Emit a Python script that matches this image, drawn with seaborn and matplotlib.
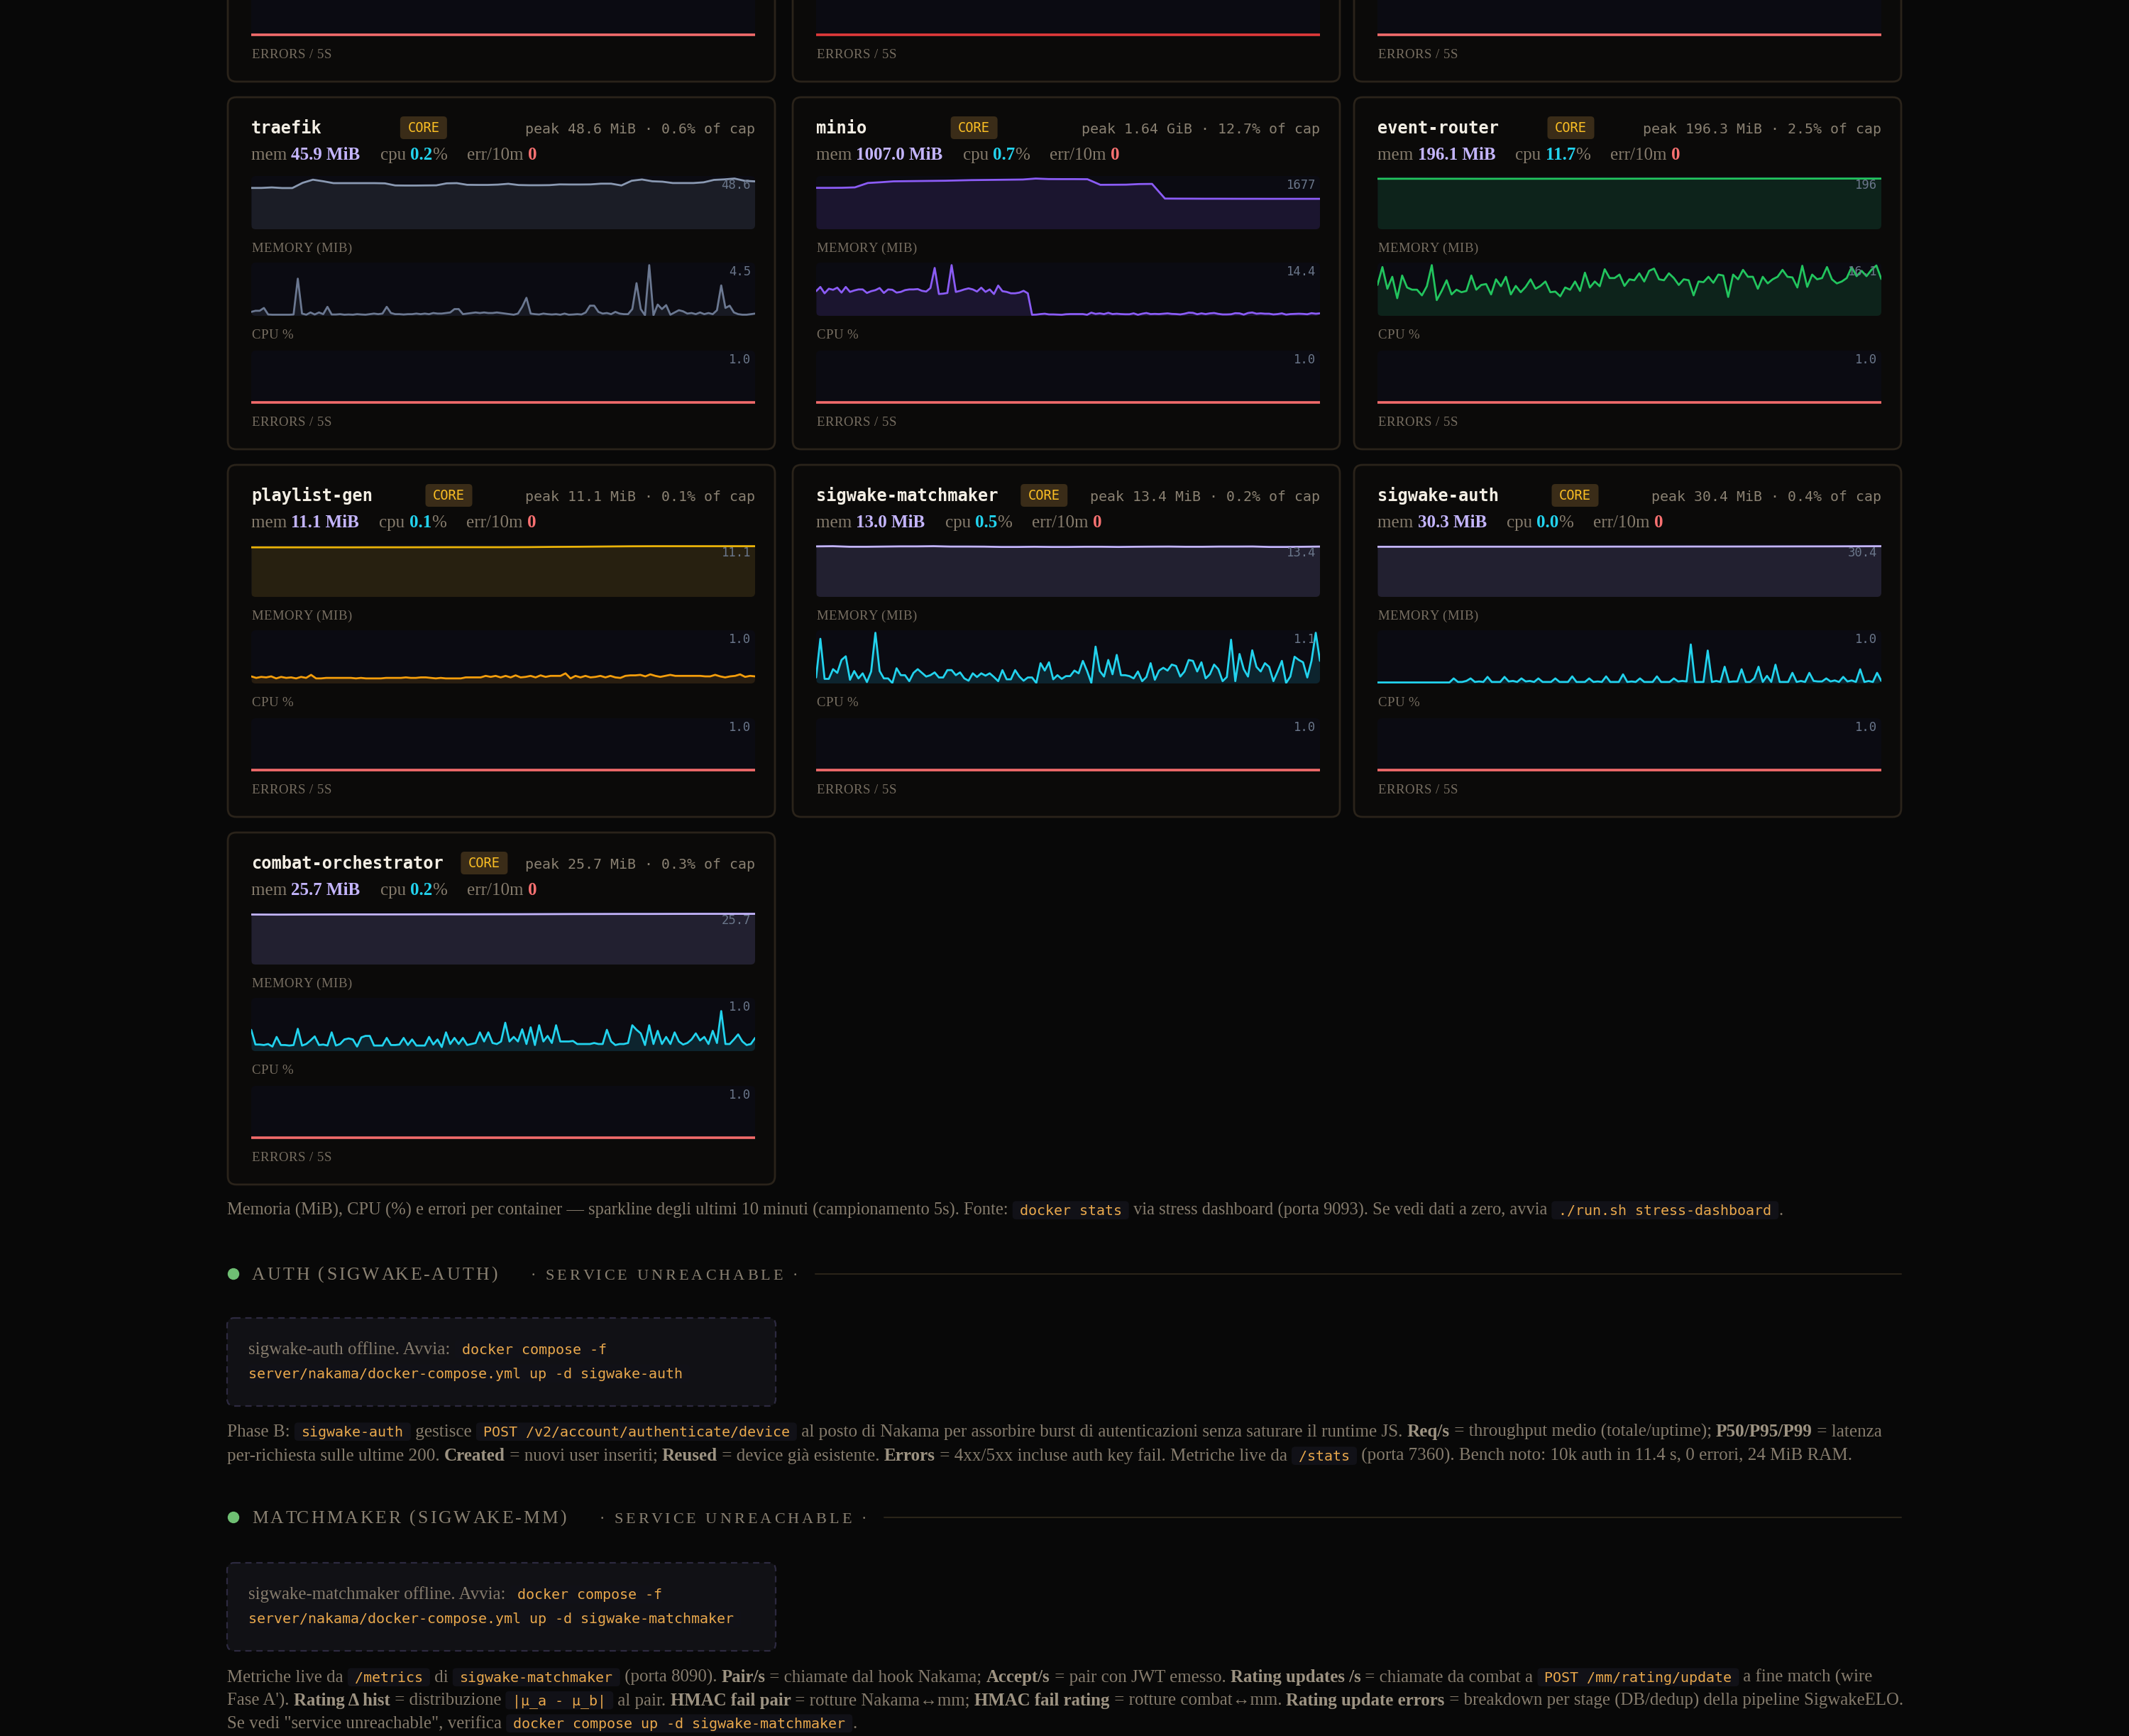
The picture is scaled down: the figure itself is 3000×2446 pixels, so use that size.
import matplotlib
matplotlib.use("Agg")
import matplotlib.pyplot as plt
from matplotlib.patches import FancyBboxPatch, Circle
import numpy as np
import seaborn as sns

W, H = 3000, 2446

# ---------------------------------------------------------------- data
NAMES = ["traefik", "minio", "event-router", "playlist-gen",
         "sigwake-matchmaker", "sigwake-auth", "combat-orchestrator"]
MEM_NOW = [45.9, 1007.0, 196.1, 11.1, 13.0, 30.3, 25.7]
CPU_NOW = [0.2, 0.7, 11.7, 0.1, 0.5, 0.0, 0.2]
ERR_10M = [0, 0, 0, 0, 0, 0, 0]
PEAK = ["48.6 MiB", "1.64 GiB", "196.3 MiB", "11.1 MiB", "13.4 MiB", "30.4 MiB", "25.7 MiB"]
CAP_PCT = [0.6, 12.7, 2.5, 0.1, 0.2, 0.4, 0.3]

MEM_TRAEFIK = [39.6, 39.6, 40.1, 39.5, 39.5, 44.5, 47.5, 46.0, 44.2, 44.2, 44.2, 44.2, 44.2,
               44.0, 42.0, 41.9, 41.9, 42.0, 42.1, 44.0, 44.2, 42.6, 42.5, 42.5, 42.8, 43.6,
               42.4, 42.2, 42.2, 42.3, 43.0, 42.9, 42.9, 43.0, 43.7, 43.7, 42.0, 46.5, 47.7,
               46.0, 45.6, 44.3, 44.3, 44.3, 45.0, 47.3, 47.8, 48.6, 46.4, 45.9]
CPU_TRAEFIK = [0.35, 0.45, 0.45, 0.7, 0.12, 0.1, 0.1, 0.1, 0.1, 0.1, 0.12, 3.3, 0.2, 0.1, 0.3,
               0.12, 0.3, 0.15, 0.8, 0.12, 0.12, 0.15, 0.1, 0.12, 0.1, 0.15, 0.12, 0.1, 0.15,
               0.2, 0.15, 0.2, 0.8, 0.25, 0.15, 0.15, 0.12, 0.15, 0.15, 0.2, 0.15, 0.2, 0.15,
               0.25, 0.2, 0.2, 0.25, 0.3, 0.6, 0.6, 0.15, 0.2, 0.25, 0.3, 0.25, 0.3, 0.25, 0.25,
               0.3, 0.25, 0.2, 0.15, 0.1, 0.2, 0.8, 1.6, 0.2, 0.15, 0.12, 0.2, 0.15, 0.12, 0.15,
               0.1, 0.2, 0.1, 0.12, 0.15, 0.12, 0.3, 0.9, 0.9, 0.35, 0.2, 0.25, 0.15, 0.35, 0.2,
               0.15, 0.15, 0.6, 2.9, 0.6, 0.05, 4.5, 0.05, 1.0, 0.6, 0.95, 0.1, 0.3, 0.5, 0.4,
               0.2, 0.25, 0.15, 0.3, 0.15, 0.25, 0.15, 0.5, 2.7, 0.7, 0.9, 0.3, 0.15, 0.1, 0.1,
               0.15, 0.2]

MEM_MINIO = [1369, 1369, 1372, 1385, 1530, 1555, 1585, 1590, 1595, 1600, 1605, 1615, 1625,
             1630, 1635, 1640, 1645, 1677, 1660, 1658, 1658, 1655, 1470, 1472, 1475, 1495,
             1500, 1015, 1013, 1012, 1010, 1010, 1009, 1008, 1008, 1007, 1007, 1007, 1007, 1007]
CPU_MINIO = [7.0, 8.2, 6.4, 7.7, 7.4, 8.0, 6.6, 8.2, 6.8, 7.2, 7.5, 7.5, 6.5, 7.0, 7.3, 7.9,
             6.5, 7.5, 7.4, 6.6, 6.8, 7.3, 7.5, 7.5, 7.6, 7.1, 6.9, 7.9, 13.6, 6.2, 6.3, 6.5,
             14.4, 6.8, 7.1, 7.5, 7.8, 7.5, 6.9, 8.0, 6.8, 7.5, 6.2, 8.6, 7.0, 6.8, 6.4, 6.4,
             6.6, 7.1, 6.4, 0.3, 0.35, 0.5, 0.6, 0.4, 0.4, 0.35, 0.3, 0.45, 0.5, 0.5, 0.5, 0.5,
             0.3, 0.9, 0.55, 0.7, 0.5, 0.85, 0.5, 0.6, 0.5, 0.45, 0.45, 0.7, 0.3, 0.6, 0.8, 0.5,
             0.55, 0.5, 0.6, 0.7, 0.55, 0.5, 0.4, 0.6, 0.9, 0.85, 0.45, 0.7, 0.5, 0.7, 0.8,
             0.55, 0.4, 0.4, 0.45, 0.75, 0.7, 0.35, 0.8, 0.95, 0.6, 0.7, 0.6, 0.6, 0.4, 0.5,
             0.7, 0.35, 0.5, 0.55, 0.6, 0.55, 0.45, 0.75, 0.6, 0.7]

MEM_EVENT = [195.5, 195.6, 195.5, 195.5, 195.4, 195.5, 195.5, 195.6, 195.6, 195.7, 195.8,
             195.9, 196.0, 196.0, 196.1, 196.2, 196.1, 196.2, 196.3, 196.1]
CPU_EVENT = [9.8, 15.5, 8.6, 12.4, 5.6, 12.8, 9.0, 8.3, 8.3, 6.5, 9.4, 16.1, 5.0, 7.9, 11.3,
             6.8, 8.3, 7.5, 7.9, 12.8, 8.3, 9.8, 10.1, 6.8, 11.6, 9.4, 12.4, 6.8, 9.5, 7.5, 9.2,
             11.6, 8.6, 9.5, 10.9, 7.5, 7.7, 6.2, 9.0, 8.3, 10.9, 7.9, 13.7, 9.0, 10.9, 9.4,
             14.8, 12.0, 12.0, 13.1, 9.5, 11.6, 11.3, 13.5, 10.9, 14.3, 15.0, 11.6, 11.3, 13.5,
             12.0, 9.8, 11.6, 11.3, 6.5, 10.9, 10.7, 12.4, 10.5, 13.1, 12.8, 6.0, 13.1, 11.6,
             14.6, 12.4, 12.4, 8.6, 12.4, 10.3, 11.6, 12.4, 14.6, 12.4, 12.2, 9.0, 15.9, 9.2,
             13.1, 11.6, 12.0, 15.5, 11.6, 10.3, 10.9, 12.0, 15.5, 12.6, 14.3, 12.6, 14.6,
             16.0, 11.7]

MEM_PLAYLIST = [10.85, 10.85, 10.85, 10.85, 10.85, 10.86, 10.86, 10.87, 10.88, 10.88, 10.88,
                10.9, 10.95, 10.98, 11.03, 11.08, 11.1, 11.1, 11.1, 11.1, 11.1]
CPU_PLAYLIST = [0.14, 0.11, 0.13, 0.12, 0.14, 0.10, 0.13, 0.11, 0.12, 0.10, 0.13, 0.11, 0.17,
                0.10, 0.10, 0.11, 0.11, 0.11, 0.11, 0.11, 0.11, 0.10, 0.11, 0.10, 0.10, 0.10,
                0.10, 0.11, 0.11, 0.11, 0.11, 0.12, 0.11, 0.11, 0.12, 0.12, 0.11, 0.10, 0.11,
                0.10, 0.10, 0.10, 0.10, 0.12, 0.12, 0.12, 0.12, 0.15, 0.13, 0.15, 0.12, 0.15,
                0.12, 0.16, 0.12, 0.13, 0.15, 0.12, 0.16, 0.13, 0.15, 0.15, 0.15, 0.20, 0.10,
                0.15, 0.12, 0.15, 0.12, 0.13, 0.15, 0.12, 0.15, 0.12, 0.11, 0.15, 0.16, 0.16,
                0.17, 0.14, 0.18, 0.15, 0.13, 0.15, 0.17, 0.15, 0.15, 0.15, 0.15, 0.15, 0.15,
                0.14, 0.14, 0.17, 0.14, 0.12, 0.14, 0.15, 0.18, 0.13, 0.15, 0.14]

MEM_MM = [13.35, 13.4, 13.25, 13.25, 13.3, 13.35, 13.35, 13.4, 13.3, 13.3, 13.28, 13.2, 13.2,
          13.25, 13.2, 13.2, 13.25, 13.25, 13.2, 13.25, 13.28, 13.3, 13.25, 13.25, 13.3, 13.3,
          13.32, 13.2, 13.2, 13.25, 13.3]
CPU_MM = [0.13, 0.97, 0.10, 0.10, 0.31, 0.23, 0.51, 0.59, 0.08, 0.27, 0.11, 0.22, 0.03, 0.26,
          1.1, 0.27, 0.11, 0.11, 0.01, 0.33, 0.18, 0.18, 0.05, 0.23, 0.31, 0.23, 0.15, 0.18,
          0.24, 0.13, 0.13, 0.29, 0.29, 0.18, 0.24, 0.11, 0.06, 0.22, 0.14, 0.22, 0.17, 0.22,
          0.14, 0.05, 0.29, 0.09, 0.09, 0.29, 0.15, 0.06, 0.13, 0.13, 0.01, 0.44, 0.28, 0.46,
          0.09, 0.18, 0.10, 0.16, 0.16, 0.28, 0.22, 0.49, 0.27, 0.01, 0.80, 0.27, 0.15, 0.51,
          0.20, 0.62, 0.18, 0.18, 0.16, 0.11, 0.26, 0.05, 0.14, 0.44, 0.08, 0.28, 0.34, 0.28,
          0.41, 0.38, 0.15, 0.26, 0.51, 0.49, 0.26, 0.46, 0.11, 0.20, 0.41, 0.31, 0.05, 0.14,
          0.95, 0.05, 0.64, 0.31, 0.15, 0.72, 0.36, 0.26, 0.44, 0.36, 0.05, 0.26, 0.49, 0.01,
          0.15, 0.58, 0.51, 0.46, 0.13, 0.49, 1.1, 0.49]

MEM_AUTH = [30.05, 30.05, 30.05, 30.1, 30.1, 30.1, 30.1, 30.12, 30.12, 30.15, 30.15, 30.18,
            30.2, 30.2, 30.22, 30.25, 30.28, 30.3, 30.35, 30.4]
CPU_AUTH = [0.02, 0.02, 0.02, 0.02, 0.02, 0.02, 0.02, 0.02, 0.02, 0.02, 0.02, 0.02, 0.02,
            0.02, 0.02, 0.02, 0.02, 0.02, 0.1, 0.03, 0.03, 0.05, 0.1, 0.03, 0.04, 0.03, 0.13,
            0.03, 0.03, 0.03, 0.13, 0.04, 0.05, 0.03, 0.1, 0.04, 0.05, 0.03, 0.1, 0.03, 0.03,
            0.03, 0.1, 0.03, 0.03, 0.03, 0.14, 0.03, 0.03, 0.03, 0.1, 0.03, 0.04, 0.03, 0.14,
            0.03, 0.03, 0.03, 0.18, 0.03, 0.04, 0.03, 0.1, 0.03, 0.03, 0.03, 0.14, 0.03, 0.03,
            0.03, 0.1, 0.04, 0.05, 0.04, 0.77, 0.03, 0.03, 0.03, 0.65, 0.03, 0.05, 0.03, 0.33,
            0.03, 0.04, 0.04, 0.28, 0.03, 0.03, 0.1, 0.33, 0.03, 0.15, 0.03, 0.37, 0.03, 0.03,
            0.03, 0.21, 0.03, 0.05, 0.03, 0.21, 0.05, 0.04, 0.04, 0.1, 0.04, 0.06, 0.03, 0.13,
            0.04, 0.06, 0.03, 0.28, 0.03, 0.05, 0.03, 0.21, 0.05]

MEM_COMBAT = [25.35, 25.3, 25.35, 25.38, 25.4, 25.4, 25.42, 25.45, 25.45, 25.48, 25.5, 25.55,
              25.6, 25.62, 25.65, 25.65, 25.68, 25.7, 25.7, 25.7]
CPU_COMBAT = [0.42, 0.13, 0.13, 0.12, 0.14, 0.09, 0.28, 0.12, 0.12, 0.11, 0.12, 0.44, 0.11,
              0.14, 0.21, 0.29, 0.12, 0.13, 0.11, 0.37, 0.11, 0.14, 0.23, 0.25, 0.23, 0.09,
              0.27, 0.30, 0.30, 0.11, 0.11, 0.11, 0.26, 0.12, 0.12, 0.13, 0.26, 0.12, 0.23,
              0.11, 0.11, 0.11, 0.28, 0.13, 0.23, 0.08, 0.37, 0.14, 0.26, 0.14, 0.26, 0.12,
              0.14, 0.16, 0.37, 0.19, 0.37, 0.16, 0.14, 0.19, 0.56, 0.19, 0.28, 0.19, 0.43,
              0.14, 0.47, 0.12, 0.51, 0.19, 0.30, 0.16, 0.51, 0.19, 0.19, 0.19, 0.20, 0.14,
              0.14, 0.14, 0.14, 0.16, 0.14, 0.14, 0.42, 0.19, 0.12, 0.14, 0.14, 0.16, 0.51,
              0.42, 0.35, 0.12, 0.51, 0.14, 0.40, 0.14, 0.28, 0.14, 0.37, 0.19, 0.13, 0.16,
              0.23, 0.35, 0.21, 0.28, 0.14, 0.40, 0.16, 0.79, 0.14, 0.14, 0.23, 0.33, 0.19,
              0.12, 0.14, 0.26]

ERR_5S = [0, 0, 0, 0, 0, 0, 0, 0, 0, 0, 0, 0]

MEM_SERIES = [MEM_TRAEFIK, MEM_MINIO, MEM_EVENT, MEM_PLAYLIST, MEM_MM, MEM_AUTH, MEM_COMBAT]
CPU_SERIES = [CPU_TRAEFIK, CPU_MINIO, CPU_EVENT, CPU_PLAYLIST, CPU_MM, CPU_AUTH, CPU_COMBAT]

FOOTER_NOTE = [("Memoria (MiB), CPU (%) e errori per container — sparkline degli ultimi 10 minuti "
                "(campionamento 5s). Fonte: ", "n"), ("docker stats", "c"),
               (" via stress dashboard (porta 9093). Se vedi dati a zero, avvia ", "n"),
               ("./run.sh stress-dashboard", "c"), (".", "n")]
AUTH_BOX = [[("sigwake-auth offline. Avvia: ", "n"), ("docker compose -f", "cl")],
            [("server/nakama/docker-compose.yml up -d sigwake-auth", "cr")]]
AUTH_NOTE = [
    [("Phase B: ", "n"), ("sigwake-auth", "c"), (" gestisce ", "n"),
     ("POST /v2/account/authenticate/device", "c"),
     (" al posto di Nakama per assorbire burst di autenticazioni senza saturare il runtime JS. ", "n"),
     ("Req/s", "b"), (" = throughput medio (totale/uptime); ", "n"), ("P50/P95/P99", "b"),
     (" = latenza", "n")],
    [("per-richiesta sulle ultime 200. ", "n"), ("Created", "b"), (" = nuovi user inseriti; ", "n"),
     ("Reused", "b"), (" = device già esistente. ", "n"), ("Errors", "b"),
     (" = 4xx/5xx incluse auth key fail. Metriche live da ", "n"), ("/stats", "c"),
     (" (porta 7360). Bench noto: 10k auth in 11.4 s, 0 errori, 24 MiB RAM.", "n")]]
MM_BOX = [[("sigwake-matchmaker offline. Avvia: ", "n"), ("docker compose -f", "cl")],
          [("server/nakama/docker-compose.yml up -d sigwake-matchmaker", "cr")]]
MM_NOTE = [
    [("Metriche live da ", "n"), ("/metrics", "c"), (" di ", "n"), ("sigwake-matchmaker", "c"),
     (" (porta 8090). ", "n"), ("Pair/s", "b"), (" = chiamate dal hook Nakama; ", "n"),
     ("Accept/s", "b"), (" = pair con JWT emesso. ", "n"), ("Rating updates /s", "b"),
     (" = chiamate da combat a ", "n"), ("POST /mm/rating/update", "c"),
     (" a fine match (wire", "n")],
    [("Fase A'). ", "n"), ("Rating Δ hist", "b"), (" = distribuzione ", "n"), ("|μ_a - μ_b|", "c"),
     (" al pair. ", "n"), ("HMAC fail pair", "b"), (" = rotture Nakama↔mm; ", "n"),
     ("HMAC fail rating", "b"), (" = rotture combat↔mm. ", "n"), ("Rating update errors", "b"),
     (" = breakdown per stage (DB/dedup) della pipeline SigwakeELO.", "n")],
    [("Se vedi \"service unreachable\", verifica ", "n"),
     ("docker compose up -d sigwake-matchmaker", "c"), (".", "n")]]

# ---------------------------------------------------------------- style
PAGE = "#080808"
CARD_BG = "#0b0a09"
CARD_EDGE = "#2a231a"
CHART_BG = "#0b0b12"
MEM_COLORS = ["#8a99b2", "#8b5cf6", "#22c55e", "#eab308", "#c4b5fd", "#c4b5fd", "#c4b5fd"]
CPU_COLORS = ["#6b7891", "#8b5cf6", "#22c55e", "#f59e0b", "#22d3ee", "#22d3ee", "#22d3ee"]
ERR_COLOR = "#f26b6b"
TXT = "#857b6c"
TXT_B = "#9d9382"
LBL = "#776e61"
VAL_LBL = "#6a768a"
CODE_FG = "#e9a84c"
CODE_BG = "#111117"
SERIF = ["Liberation Serif", "DejaVu Serif"]
MONO = ["DejaVu Sans Mono"]

COL_X = [321, 1117, 1908]
ROW_Y = [-381, 137, 655, 1173]
CARD_W, CARD_H = 771, 496
CH_W, CH_H = 710, 75

sns.set_theme(style="dark", rc={"axes.facecolor": PAGE, "figure.facecolor": PAGE})
plt.rcParams["font.family"] = SERIF

fig = plt.figure(figsize=(W / 100, H / 100), dpi=100)
fig.patch.set_facecolor(PAGE)
bg = fig.add_axes([0, 0, 1, 1])
bg.set_xlim(0, W)
bg.set_ylim(H, 0)
bg.set_axis_off()
R = fig.canvas.get_renderer()


def tw(s, **kw):
    t = bg.text(0, 0, s + "|", **kw)
    a = t.get_window_extent(R).width
    t.remove()
    t = bg.text(0, 0, "|", **kw)
    b = t.get_window_extent(R).width
    t.remove()
    return a - b


def rbox(x, y, w, h, r, fc, ec="none", lw=0, ls="-", z=1):
    p = FancyBboxPatch((x, y), w, h, boxstyle=f"round,pad=0,rounding_size={r}",
                       fc=fc, ec=ec, lw=lw, ls=ls, zorder=z)
    bg.add_patch(p)
    return p


def px_ax(x, y, w, h):
    ax = fig.add_axes([x / W, 1 - (y + h) / H, w / W, h / H])
    ax.patch.set_alpha(0)
    return ax


def fmt_top(v):
    return f"{v:.0f}" if v >= 100 else f"{v:.1f}"


def spark(x, y, vals, color, err=False):
    top = max(max(vals), 1.0)
    box = rbox(x, y, CH_W, CH_H, 6, CHART_BG, z=2)
    ax = px_ax(x, y, CH_W, CH_H)
    idx = np.arange(len(vals))
    sns.lineplot(x=idx, y=vals, ax=ax, color=color, linewidth=2.6 if err else 2.0,
                 errorbar=None)
    if not err:
        fill = ax.fill_between(idx, vals, 0, color=color, alpha=0.13, linewidth=0)
        fill.set_clip_path(box)
    ax.set_xlim(0, len(vals) - 1)
    ax.set_ylim(-0.035 * top if err else 0, top * 1.05)
    ax.set_axis_off()
    # the value tag sits inside the chart; skip it when that part is scrolled off the page
    if y + 4 > 0:
        ax.text(x + CH_W - 6, y + 18, fmt_top(top), transform=bg.transData, ha="right",
                va="baseline", family=MONO, fontsize=12.4, color=VAL_LBL, clip_on=False,
                zorder=5)


def spaced(x, y, s, size, color, track):
    kw = dict(family=SERIF, fontsize=size, color=color)
    for i, ch in enumerate(s):
        if ch != " ":
            bg.text(x + tw(s[:i], **kw) + i * track, y, ch, va="baseline", zorder=4, **kw)
    return x + tw(s, **kw) + (len(s) - 1) * track


PAD = 10
CODE_SIZE = 14.4


def rich(x, y, parts, size, draw=True):
    serif_w = 0
    for txt, kind in parts:
        if kind.startswith("c"):
            kw = dict(family=MONO, fontsize=CODE_SIZE, color=CODE_FG)
            w = tw(txt, **kw)
            lp = PAD if kind in ("c", "cl") else 0
            rp = PAD if kind in ("c", "cr") else 0
            if draw:
                em = CODE_SIZE * 100 / 72
                rbox(x, y - 0.98 * em, w + lp + rp, 1.28 * em, 5, CODE_BG, z=2)
                bg.text(x + lp, y, txt, va="baseline", zorder=3, **kw)
            x += w + lp + rp
        else:
            kw = dict(family=SERIF, fontsize=size, color=TXT_B if kind == "b" else TXT,
                      weight="bold" if kind == "b" else "normal")
            w = tw(txt, **kw)
            if draw:
                bg.text(x, y, txt, va="baseline", zorder=3, **kw)
            x += w
            serif_w += w
    return x, serif_w


def fit_size(x, parts, right, base=16.0):
    end, sw = rich(x, 0, parts, base, draw=False)
    fixed = end - x - sw
    return base * (right - x - fixed) / sw


def card(cx, cy, i=None):
    rbox(cx, cy, CARD_W, CARD_H, 12, CARD_BG, ec=CARD_EDGE, lw=2.0, z=1)
    x0 = cx + 33
    if i is not None:
        name_kw = dict(family=MONO, fontsize=17, weight="bold", color="#f3eee4")
        peak = f"peak {PEAK[i]} · {CAP_PCT[i]:.1f}% of cap"
        peak_kw = dict(family=MONO, fontsize=14.3, color="#8a8172")
        bg.text(x0, cy + 51, NAMES[i], va="baseline", zorder=4, **name_kw)
        bg.text(cx + 743, cy + 51, peak, ha="right", va="baseline", zorder=4, **peak_kw)
        mid = (x0 + tw(NAMES[i], **name_kw) + cx + 743 - tw(peak, **peak_kw)) / 2
        rbox(mid - 33, cy + 27, 66, 32, 5, "#3a2c18", z=3)
        bg.text(mid, cy + 44, "CORE", ha="center", va="center", family=MONO, fontsize=13.5,
                color="#fbbf24", zorder=4)
        segs = [("mem ", TXT, "normal"), (f"{MEM_NOW[i]:.1f} MiB", "#c4b5fd", "bold"), None,
                ("cpu ", TXT, "normal"), (f"{CPU_NOW[i]:.1f}", "#22d3ee", "bold"),
                ("%", TXT, "normal"), None, ("err/10m ", TXT, "normal"),
                (str(ERR_10M[i]), "#f87171", "bold")]
        x = x0
        for s in segs:
            if s is None:
                x += 28
                continue
            kw = dict(family=SERIF, fontsize=18, color=s[1], weight=s[2])
            bg.text(x, cy + 88, s[0], va="baseline", zorder=4, **kw)
            x += tw(s[0], **kw)
        spark(x0, cy + 111, MEM_SERIES[i], MEM_COLORS[i])
        spaced(x0, cy + 218, "MEMORY (MIB)", 13.5, LBL, 0.6)
        spark(x0, cy + 233, CPU_SERIES[i], CPU_COLORS[i])
        spaced(x0, cy + 340, "CPU %", 13.5, LBL, 0.6)
    spark(x0, cy + 357, ERR_5S, ERR_COLOR if i is not None or cx != COL_X[1] else "#e03a3a",
          err=True)
    spaced(x0, cy + 463, "ERRORS / 5S", 13.5, LBL, 0.6)


# partially scrolled row at the top
for cx in COL_X:
    card(cx, ROW_Y[0])
for i in range(len(NAMES)):
    card(COL_X[i % 3], ROW_Y[1 + i // 3], i)

# ---------------------------------------------------------------- notes
LX = 320
sz = fit_size(LX, FOOTER_NOTE, 2518)
rich(LX, 1712, FOOTER_NOTE, sz)


def section(y, title):
    bg.add_patch(Circle((329, y), 7.5, color="#6fbf73", zorder=4))
    x = spaced(355, y + 8, title, 18.5, "#8a8172", 3.0)
    x = spaced(x + 47, y + 8, "· SERVICE UNREACHABLE ·", 16, "#8a8172", 4.0)
    bg.plot([x + 25, 2679], [y, y], color="#2a2419", lw=1.5, zorder=2)


def offline_box(y, lines, size):
    rbox(LX, y, 773, 124, 10, "#111115", ec="#2d2a40", lw=1.6, ls=(0, (4, 3)), z=1)
    for k, parts in enumerate(lines):
        rich(LX + 30, y + 51 + 34 * k, parts, size)


section(1795, "AUTH (SIGWAKE-AUTH)")
sz_auth = fit_size(LX, AUTH_NOTE[0], 2652)
offline_box(1857, AUTH_BOX, sz_auth)
rich(LX, 2024, AUTH_NOTE[0], sz_auth)
rich(LX, 2058, AUTH_NOTE[1], sz_auth)

section(2138, "MATCHMAKER (SIGWAKE-MM)")
sz_mm = fit_size(LX, MM_NOTE[0], 2640)
offline_box(2202, MM_BOX, sz_mm)
for k, parts in enumerate(MM_NOTE):
    rich(LX, 2370 + 32.5 * k, parts, sz_mm)

fig.savefig("out.png", dpi=100, facecolor=PAGE)
